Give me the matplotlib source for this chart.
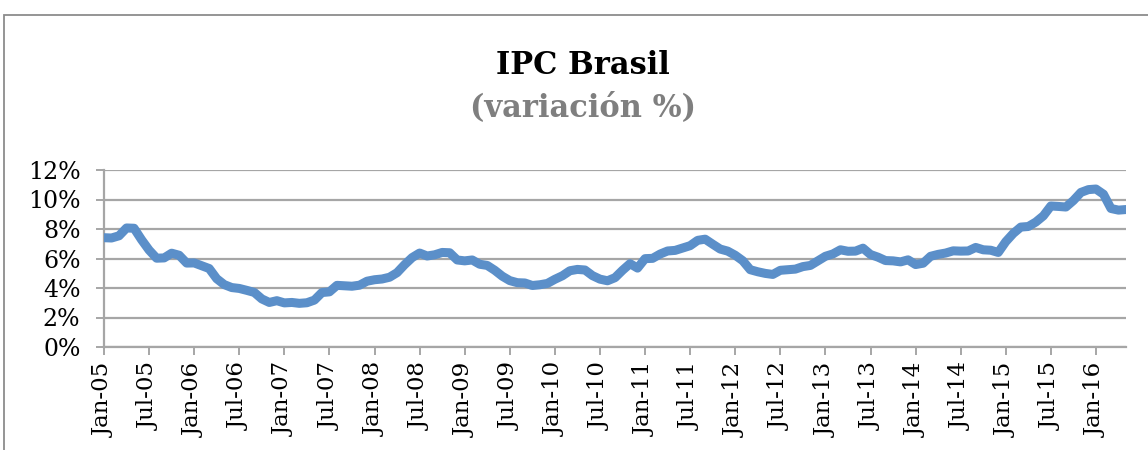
import numpy as np
import matplotlib.pyplot as plt
from matplotlib.patches import Rectangle

# IPC Brasil, variacion % 12 meses, Jan-05 .. May-16
ipc_2005 = [7.41, 7.39, 7.54, 8.07, 8.05, 7.27, 6.57, 6.02, 6.04, 6.36, 6.22, 5.69]
ipc_2006 = [5.70, 5.51, 5.32, 4.63, 4.23, 4.03, 3.97, 3.84, 3.70, 3.26, 3.02, 3.14]
ipc_2007 = [2.99, 3.02, 2.96, 3.00, 3.18, 3.69, 3.74, 4.18, 4.15, 4.12, 4.19, 4.46]
ipc_2008 = [4.56, 4.61, 4.73, 5.04, 5.58, 6.06, 6.37, 6.17, 6.25, 6.41, 6.39, 5.90]
ipc_2009 = [5.84, 5.90, 5.61, 5.53, 5.20, 4.80, 4.50, 4.36, 4.34, 4.17, 4.22, 4.31]
ipc_2010 = [4.59, 4.83, 5.17, 5.26, 5.22, 4.84, 4.60, 4.49, 4.70, 5.20, 5.65, 5.35]
ipc_2011 = [5.99, 6.01, 6.30, 6.51, 6.55, 6.71, 6.87, 7.23, 7.31, 6.97, 6.64, 6.50]
ipc_2012 = [6.22, 5.85, 5.24, 5.10, 4.99, 4.92, 5.20, 5.24, 5.28, 5.45, 5.53, 5.84]
ipc_2013 = [6.15, 6.31, 6.59, 6.49, 6.50, 6.70, 6.27, 6.09, 5.86, 5.84, 5.77, 5.91]
ipc_2014 = [5.59, 5.68, 6.15, 6.28, 6.37, 6.52, 6.50, 6.51, 6.75, 6.59, 6.56, 6.41]
ipc_2015 = [7.14, 7.70, 8.13, 8.17, 8.47, 8.89, 9.56, 9.53, 9.49, 9.93, 10.48, 10.67]
ipc_2016 = [10.71, 10.36, 9.39, 9.28, 9.32]

ipc = np.array(ipc_2005 + ipc_2006 + ipc_2007 + ipc_2008 + ipc_2009 + ipc_2010 +
               ipc_2011 + ipc_2012 + ipc_2013 + ipc_2014 + ipc_2015 + ipc_2016)
months = np.arange(len(ipc))

tick_labels = ['Jan-05', 'Jul-05', 'Jan-06', 'Jul-06', 'Jan-07', 'Jul-07', 'Jan-08',
               'Jul-08', 'Jan-09', 'Jul-09', 'Jan-10', 'Jul-10', 'Jan-11', 'Jul-11',
               'Jan-12', 'Jul-12', 'Jan-13', 'Jul-13', 'Jan-14', 'Jul-14', 'Jan-15',
               'Jul-15', 'Jan-16']
y_ticks = [0, 2, 4, 6, 8, 10, 12]

plt.rcParams['font.family'] = 'DejaVu Serif'

fig = plt.figure(figsize=(11.48, 4.5), dpi=100)
ax = fig.add_axes([104 / 1148, 1 - 347 / 450, (1126 - 104) / 1148, (347 - 170) / 450])

grid_col = '#a6a6a6'
ax.plot(months, ipc, color='#5b8fc9', lw=6.5, solid_capstyle='round',
        solid_joinstyle='round', zorder=3)

ax.set_xlim(0, len(ipc) - 1)
ax.set_ylim(0, 12)
ax.set_yticks(y_ticks)
ax.set_yticklabels([f'{v}%' for v in y_ticks])
ax.set_xticks(np.arange(0, len(ipc), 6))
ax.set_xticklabels(tick_labels, rotation=90)

ax.grid(axis='y', color=grid_col, lw=1.6)
ax.set_axisbelow(True)
for s in ['top', 'right']:
    ax.spines[s].set_visible(False)
for s in ['left', 'bottom']:
    ax.spines[s].set_color(grid_col)
    ax.spines[s].set_linewidth(1.6)
ax.tick_params(axis='both', colors=grid_col, length=6, width=1.4, labelcolor='black')
ax.tick_params(axis='y', pad=11, labelsize=17)
ax.tick_params(axis='x', pad=5, labelsize=16.5)

fig.text(0.508, 1 - 66 / 450, 'IPC Brasil', ha='center', va='center',
         fontsize=22, fontweight='bold', color='black')
fig.text(0.508, 1 - 108 / 450, '(variación %)', ha='center', va='center',
         fontsize=22, fontweight='bold', color='#7f7f7f')

fig.patches.append(Rectangle((4 / 1148, -0.2), 1.2, 1.2 - 15 / 450,
                             transform=fig.transFigure, fill=False,
                             edgecolor='#8c8c8c', lw=1.3))

fig.savefig('out.png', dpi=100)
